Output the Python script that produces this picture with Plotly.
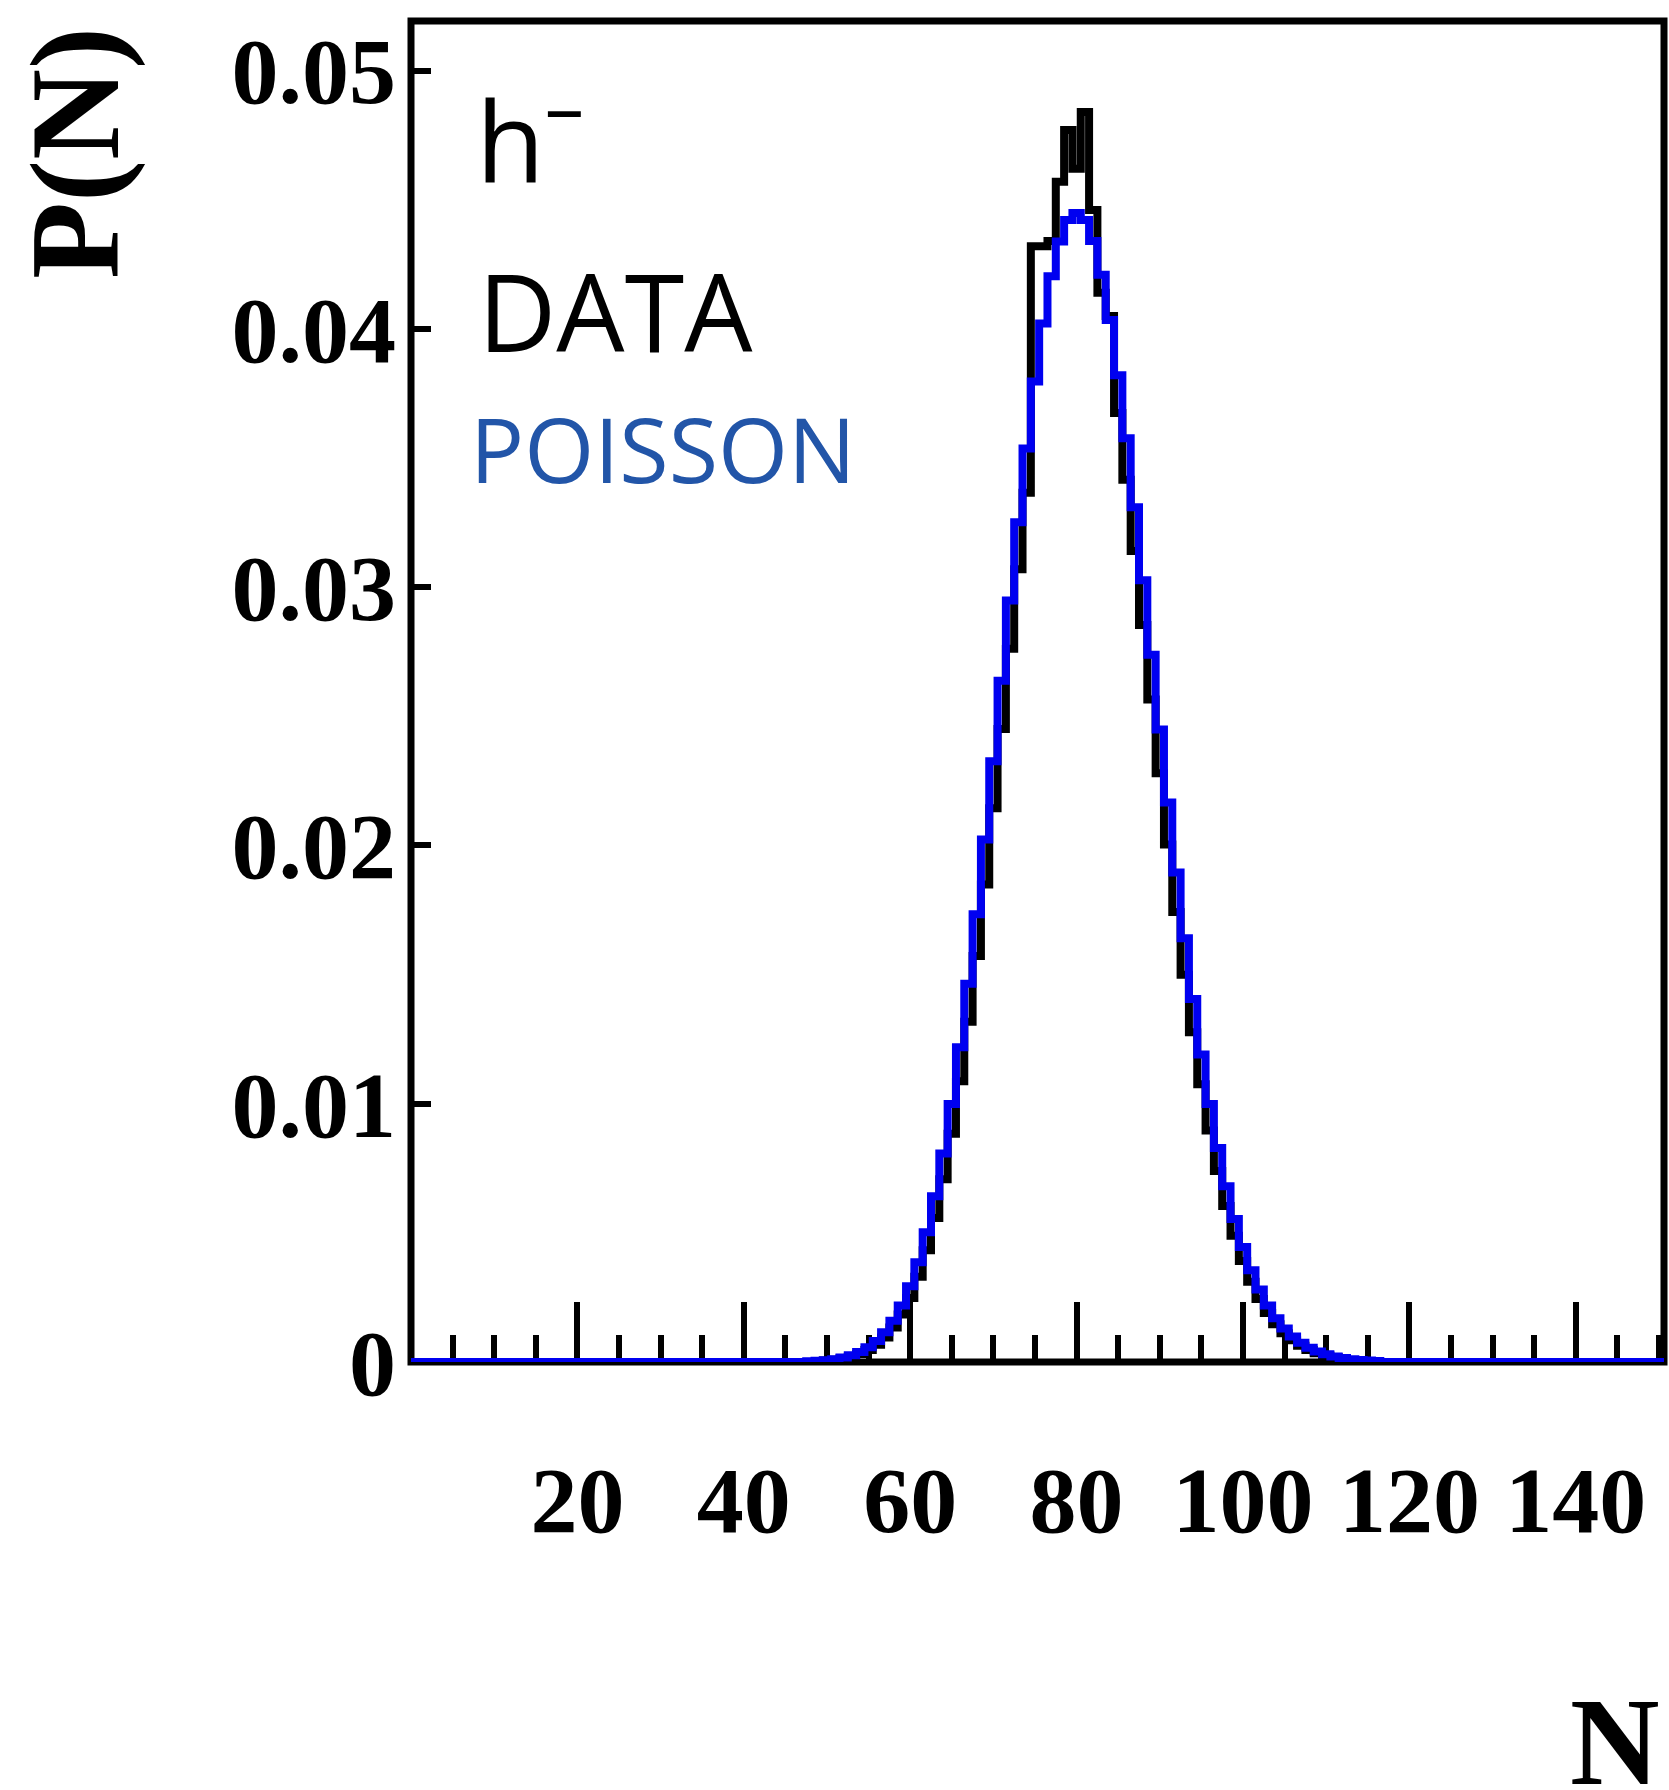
import plotly.graph_objects as go

# Negative-hadron multiplicity distribution: measured histogram vs Poisson expectation.
# Bins are unit-wide and centred on integer N.

poisson_first_n = 48
poisson_prob = [
    0.000027, 0.000044, 0.000070, 0.000111, 0.000171, 0.000260, 0.000388, 0.000568,  # 48-55
    0.000817, 0.001153, 0.001601, 0.002184, 0.002930, 0.003866, 0.005020, 0.006415,  # 56-63
    0.008069, 0.009993, 0.012189, 0.014645, 0.017337, 0.020226, 0.023260, 0.026372,  # 64-71
    0.029485, 0.032514, 0.035370, 0.037964, 0.040212, 0.042040, 0.043387, 0.044211,  # 72-79
    0.044487, 0.044212, 0.043403, 0.042096, 0.040342, 0.038206, 0.035763, 0.033091,  # 80-87
    0.030271, 0.027380, 0.024490, 0.021664, 0.018956, 0.016408, 0.014052, 0.011907,  # 88-95
    0.009985, 0.008287, 0.006807, 0.005535, 0.004456, 0.003552, 0.002803, 0.002191,  # 96-103
    0.001696, 0.001300, 0.000987, 0.000743, 0.000554, 0.000409, 0.000299, 0.000217,  # 104-111
    0.000156, 0.000111, 0.000078, 0.000055, 0.000038,                                # 112-116
]

data_first_n = 50
data_prob = [
    0.000056, 0.000088, 0.000135, 0.000207, 0.000311, 0.000460, 0.000668, 0.000951,  # 50-57
    0.001332, 0.001835, 0.002482, 0.003304, 0.004328, 0.005578, 0.007077, 0.008838,  # 58-65
    0.010872, 0.013171, 0.015722, 0.018492, 0.021440, 0.024505, 0.027617, 0.030697,  # 66-73
    0.033656, 0.043200, 0.043200, 0.043400, 0.045700, 0.047700, 0.046200, 0.048400,  # 74-81
    0.044600, 0.041400, 0.040500, 0.036740, 0.034160, 0.031399, 0.028536, 0.025646,  # 82-89
    0.022794, 0.020040, 0.017427, 0.014994, 0.012765, 0.010754, 0.008966, 0.007399,  # 90-97
    0.006044, 0.004888, 0.003913, 0.003103, 0.002436, 0.001894, 0.001458, 0.001112,  # 98-105
    0.000841, 0.000629, 0.000467, 0.000343, 0.000250, 0.000181, 0.000129,            # 106-112
]

x_min, x_max = 0, 150.6
y_min, y_max = 0, 0.05192
x_tick_vals = [20, 40, 60, 80, 100, 120, 140]
y_tick_vals = [0, 0.01, 0.02, 0.03, 0.04, 0.05]
y_tick_text = ["0", "0.01", "0.02", "0.03", "0.04", "0.05"]


def step_series(first_n, values):
    """Pad a histogram with empty bins out to the axis limits."""
    last_n = first_n + len(values) - 1
    xs = [x_min, first_n - 1] + list(range(first_n, last_n + 1)) + [last_n + 1, x_max]
    ys = [0.0, 0.0] + list(values) + [0.0, 0.0]
    return xs, ys


data_x, data_y = step_series(data_first_n, data_prob)
pois_x, pois_y = step_series(poisson_first_n, poisson_prob)

fig = go.Figure()
fig.add_trace(go.Scatter(
    x=data_x, y=data_y, mode="lines", line_shape="hvh",
    line=dict(color="black", width=8), cliponaxis=False, name="DATA",
))
fig.add_trace(go.Scatter(
    x=pois_x, y=pois_y, mode="lines", line_shape="hvh",
    line=dict(color="#0000f0", width=8), cliponaxis=False, name="POISSON",
))

serif = "Liberation Serif"
hand = "Open Sans"

# plot-area geometry in pixels
W, H = 1669, 1790
L, R, T, B = 411, 5, 21, 428
PW, PH = W - L - R, H - T - B


def paper_x(px):
    return (px - L) / PW


def paper_y(py):
    return (H - B - py) / PH


fig.update_layout(
    width=W, height=H, autosize=False,
    margin=dict(l=L, r=R, t=T, b=B, pad=0),
    paper_bgcolor="white", plot_bgcolor="white",
    showlegend=False,
    xaxis=dict(
        range=[x_min, x_max], showgrid=False, zeroline=False, showline=False,
        tickmode="array", tickvals=x_tick_vals,
        ticks="inside", ticklen=60, tickwidth=6, tickcolor="black",
        minor=dict(tickmode="linear", tick0=0, dtick=5, ticks="inside",
                   ticklen=27, tickwidth=6, tickcolor="black"),
        tickfont=dict(family=serif, size=94, color="black", weight="bold"),
        ticklabelstandoff=75,
        layer="below traces",
    ),
    yaxis=dict(
        range=[y_min, y_max], showgrid=False, zeroline=False, showline=False,
        tickmode="array", tickvals=y_tick_vals, ticktext=y_tick_text,
        ticks="inside", ticklen=20, tickwidth=6, tickcolor="black",
        tickfont=dict(family=serif, size=94, color="black", weight="bold"),
        ticklabelstandoff=14,
        layer="below traces",
    ),
)

# frame around the plotting area, drawn under the histograms
fig.add_shape(
    type="rect", xref="paper", yref="paper", x0=0, x1=1, y0=0, y1=1,
    line=dict(color="black", width=7), fillcolor="rgba(0,0,0,0)", layer="below",
)

# axis titles
fig.add_annotation(
    text="P(N)", xref="paper", yref="paper",
    x=paper_x(76), y=paper_y(153),
    xanchor="center", yanchor="middle", textangle=-90, showarrow=False,
    font=dict(family=serif, size=126, color="black", weight="bold"),
)
fig.add_annotation(
    text="N", xref="paper", yref="paper",
    x=paper_x(1615), y=paper_y(1742),
    xanchor="center", yanchor="middle", showarrow=False,
    font=dict(family=serif, size=124, color="black", weight="bold"),
)

# hand-written labels in the upper-left corner
fig.add_annotation(
    text="h<sup>\u2013</sup>", x=7.6, y=0.0476, xanchor="left", yanchor="middle",
    showarrow=False, font=dict(family=hand, size=112, color="black"),
)
fig.add_annotation(
    text="DATA", x=7.8, y=0.0407, xanchor="left", yanchor="middle",
    showarrow=False, font=dict(family=hand, size=108, color="black"),
)
fig.add_annotation(
    text="POISSON", x=6.8, y=0.0354, xanchor="left", yanchor="middle",
    showarrow=False, font=dict(family=hand, size=90, color="#2255a8"),
)

fig.write_html("out.html")
